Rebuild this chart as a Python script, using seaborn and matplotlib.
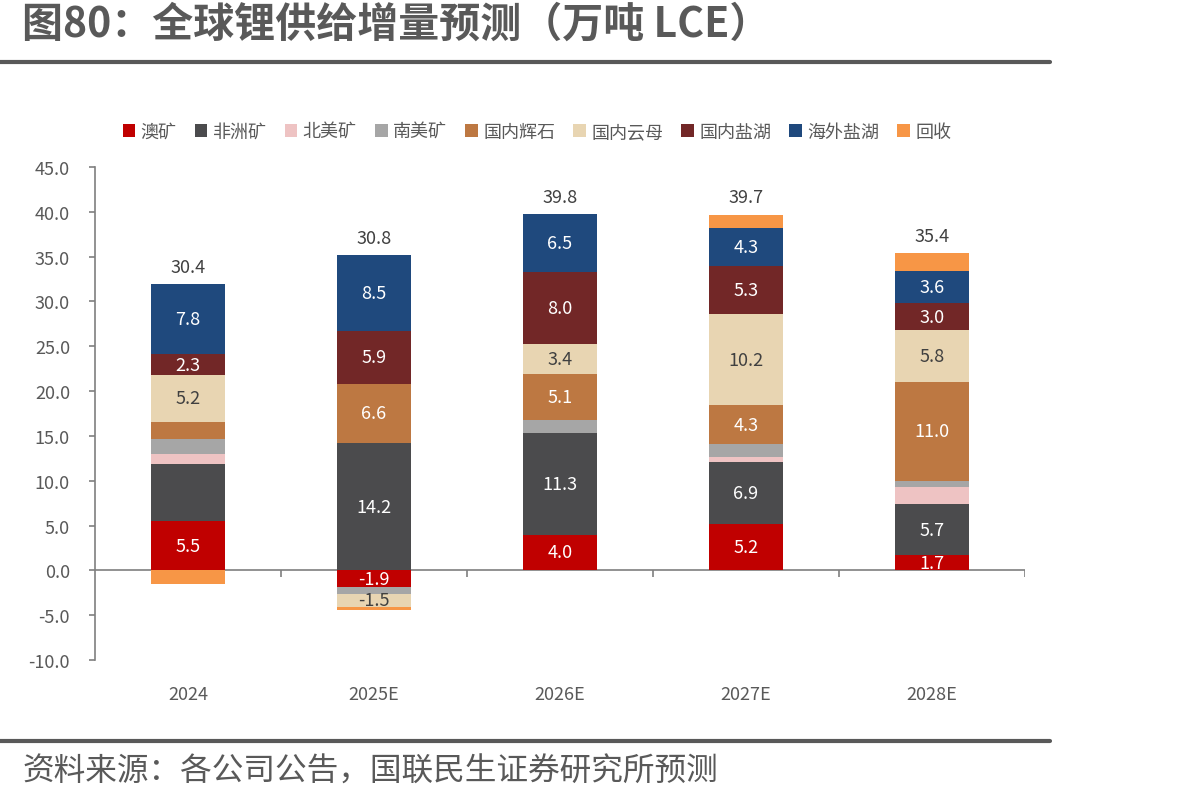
import numpy as np
import pandas as pd
import matplotlib
matplotlib.use("Agg")
import matplotlib.pyplot as plt
from matplotlib.lines import Line2D
from matplotlib.patches import Patch
import seaborn as sns

# ---- data ----
years = ["2024", "2025E", "2026E", "2027E", "2028E"]
series_names = ["澳矿", "非洲矿", "北美矿", "南美矿", "国内辉石", "国内云母", "国内盐湖", "海外盐湖", "回收"]
aus_mine = [5.5, -1.9, 4.0, 5.2, 1.7]
africa_mine = [6.4, 14.2, 11.3, 6.9, 5.7]
na_mine = [1.1, 0.0, 0.0, 0.5, 1.9]
sa_mine = [1.6, -0.7, 1.5, 1.5, 0.7]
cn_spodumene = [2.0, 6.6, 5.1, 4.3, 11.0]
cn_lepidolite = [5.2, -1.5, 3.4, 10.2, 5.8]
cn_brine = [2.3, 5.9, 8.0, 5.3, 3.0]
os_brine = [7.8, 8.5, 6.5, 4.3, 3.6]
recycling = [-1.5, -0.3, 0.0, 1.5, 2.0]
# which segments carry a value label
label_mask = [
    [1, 1, 1, 1, 1],
    [0, 1, 1, 1, 1],
    [0, 0, 0, 0, 0],
    [0, 0, 0, 0, 0],
    [0, 1, 1, 1, 1],
    [1, 1, 1, 1, 1],
    [1, 1, 1, 1, 1],
    [1, 1, 1, 1, 1],
    [0, 0, 0, 0, 0],
]

all_series = [aus_mine, africa_mine, na_mine, sa_mine, cn_spodumene,
              cn_lepidolite, cn_brine, os_brine, recycling]
colors = ["#C00000", "#4B4B4D", "#EEC3C3", "#A6A6A6", "#BD7842",
          "#E8D5B2", "#722727", "#1F497D", "#F79646"]
label_colors = ["white", "white", "#404040", "#404040", "white",
                "#404040", "white", "white", "#404040"]

sns.set_theme(style="white")
plt.rcParams["font.family"] = ["Noto Sans CJK SC", "DejaVu Sans"]
plt.rcParams["axes.unicode_minus"] = False

fig = plt.figure(figsize=(11.99, 8.03), dpi=100)
ax = fig.add_axes([95 / 1199, 1 - 661 / 803, (1025 - 95) / 1199, (661 - 168) / 803])

pos_base = np.zeros(len(years))
neg_base = np.zeros(len(years))
handles = []
for name, vals, col, lcol, mask in zip(series_names, all_series, colors, label_colors, label_mask):
    v = np.array(vals, dtype=float)
    bottom = np.where(v >= 0, pos_base, neg_base)
    df = pd.DataFrame({"year": years, "value": v})
    sns.barplot(data=df, x="year", y="value", order=years, color=col, saturation=1,
                width=0.4, bottom=bottom, errorbar=None, linewidth=0, ax=ax)
    cont = ax.containers[-1]
    labels = [f"{x:.1f}" if m else "" for x, m in zip(v, mask)]
    ax.bar_label(cont, labels=labels, label_type="center", color=lcol, fontsize=13)
    pos_base = pos_base + np.where(v >= 0, v, 0)
    neg_base = neg_base + np.where(v < 0, v, 0)
    handles.append(Patch(facecolor=col, edgecolor="none", label=name))

totals = np.sum(np.array(all_series), axis=0)
for i, t in enumerate(totals):
    ax.text(i, pos_base[i] + 1.9, f"{t:.1f}", ha="center", va="center",
            fontsize=13, color="#404040")

ax.set_xlim(-0.5, 4.5)
ax.set_ylim(-10, 45)
ax.set_yticks(np.arange(-10, 46, 5))
ax.yaxis.set_major_formatter(matplotlib.ticker.FormatStrFormatter("%.1f"))
ax.set_xlabel("")
ax.set_ylabel("")
for s in ["top", "right", "bottom"]:
    ax.spines[s].set_visible(False)
ax.spines["left"].set_color("#7F7F7F")
ax.spines["left"].set_linewidth(1.2)
ax.tick_params(axis="y", which="major", left=True, length=4, width=1.2, color="#7F7F7F",
               labelsize=13, labelcolor="#595959", pad=14)
ax.tick_params(axis="x", length=0, labelsize=13, labelcolor="#595959", pad=18)
ax.axhline(0, color="#7F7F7F", lw=1.2, zorder=0.5)
ax.vlines(np.arange(0.5, 5, 1.0), -0.7, 0, color="#7F7F7F", lw=1.2)

fig.legend(handles=handles, loc="center", bbox_to_anchor=(537 / 1199, 1 - 133 / 803),
           ncol=9, frameon=False, fontsize=13, handlelength=0.7, handleheight=0.7,
           handletextpad=0.3, columnspacing=1.0, labelcolor="#595959")

fig.text(22 / 1199, 1 - 25 / 803, "图80：全球锂供给增量预测（万吨 LCE）", fontsize=29.5,
         fontweight="bold", color="#595959", ha="left", va="center")
fig.add_artist(Line2D([0, 1050 / 1199], [1 - 63 / 803] * 2, lw=3, color="#595959"))
fig.add_artist(Line2D([0, 1050 / 1199], [1 - 742 / 803] * 2, lw=3, color="#595959"))
fig.text(22 / 1199, 1 - 772 / 803, "资料来源：各公司公告，国联民生证券研究所预测", fontsize=22.8,
         color="#595959", ha="left", va="center")

fig.savefig("out.png", dpi=100)
